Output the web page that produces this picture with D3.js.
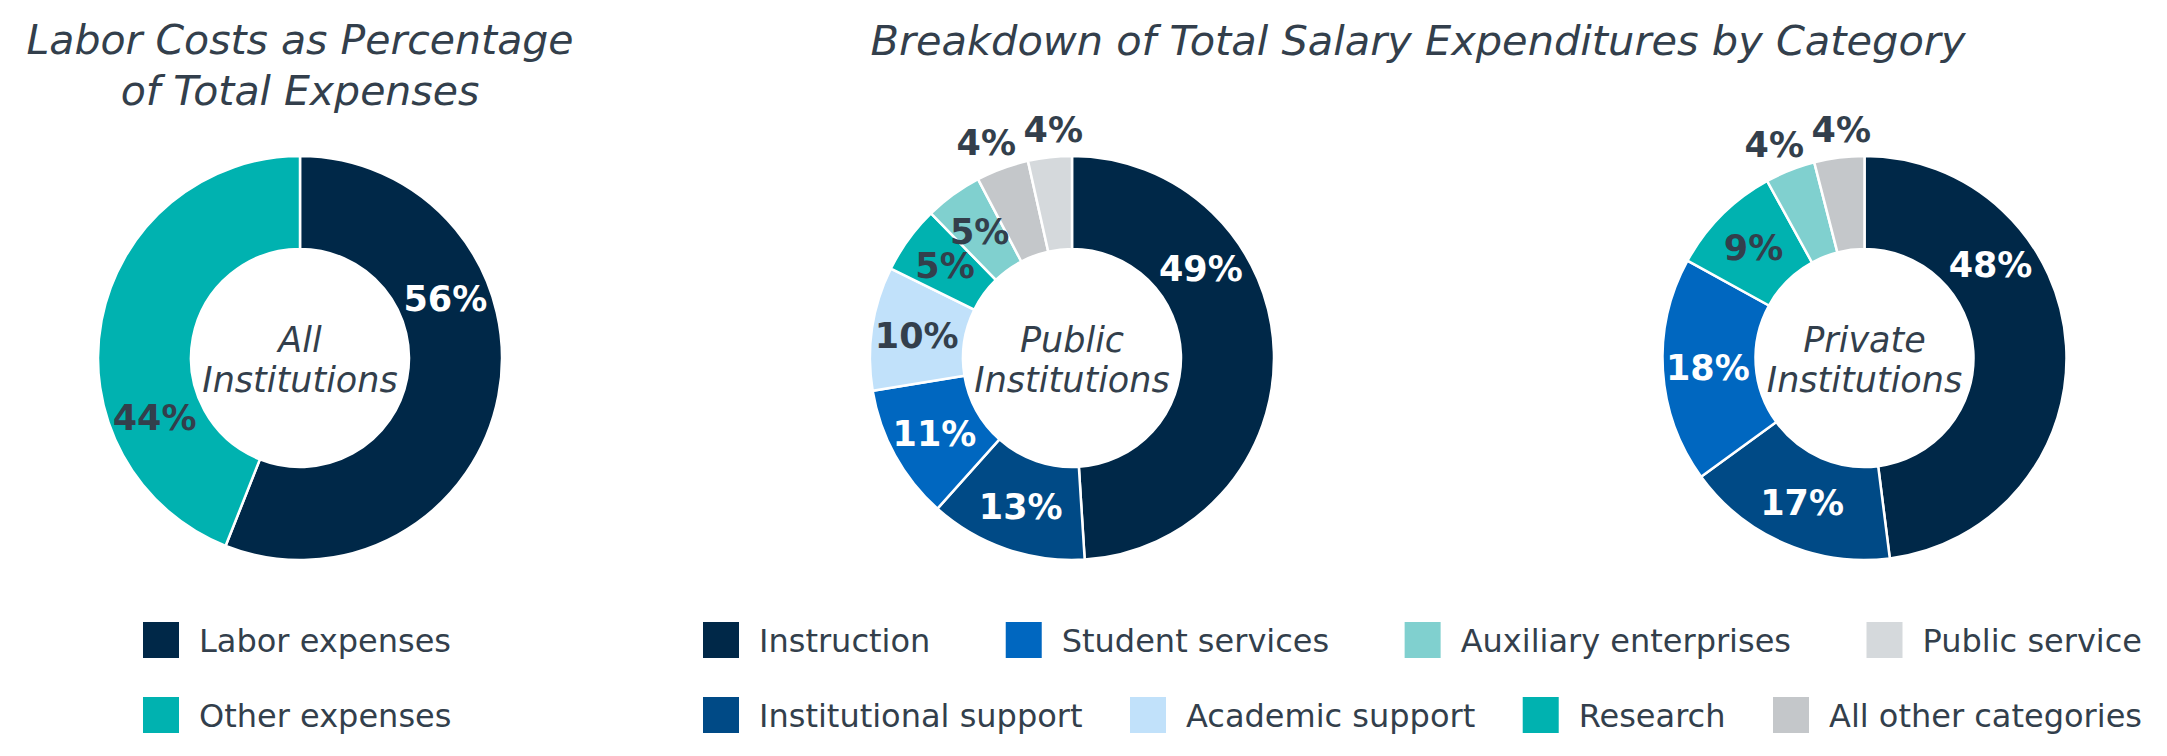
<!DOCTYPE html>
<html>
<head>
<meta charset="utf-8">
<script src="https://cdn.jsdelivr.net/npm/d3@7"></script>
<style>
  html, body { margin: 0; padding: 0; background: #ffffff; }
  svg { display: block; font-family: "DejaVu Sans", Verdana, sans-serif; }
</style>
</head>
<body>
<script>
// ---------------- DATA ----------------
const leftCategories = ["Labor expenses", "Other expenses"];
const leftValues = [56, 44];

const publicCategories = ["Instruction", "Institutional support", "Student services", "Academic support",
                          "Research", "Auxiliary enterprises", "All other categories", "Public service"];
const publicValues = [49.0, 12.6, 10.8, 9.9, 5.4, 4.6, 4.2, 3.5];

const privateCategories = ["Instruction", "Institutional support", "Student services",
                           "Research", "Auxiliary enterprises", "All other categories"];
const privateValues = [48, 17, 18, 9, 4, 4];

const leftTitleLines = ["Labor Costs as Percentage", "of Total Expenses"];
const rightTitle = "Breakdown of Total Salary Expenditures by Category";
const centerLabels = [["All", "Institutions"], ["Public", "Institutions"], ["Private", "Institutions"]];

const legendLeft = ["Labor expenses", "Other expenses"];
const legendRightRows = [
  ["Instruction", "Student services", "Auxiliary enterprises", "Public service"],
  ["Institutional support", "Academic support", "Research", "All other categories"]
];

// ---------------- STYLE ----------------
const colorMap = {
  "Labor expenses": "#002848",
  "Other expenses": "#00b2b0",
  "Instruction": "#002848",
  "Institutional support": "#004a86",
  "Student services": "#0067c0",
  "Academic support": "#c1e1fa",
  "Research": "#00b2b0",
  "Auxiliary enterprises": "#80d0cf",
  "All other categories": "#c4c7ca",
  "Public service": "#d5d9dc"
};
const textColor = "#333f4c";
const W = 2167, H = 756;
const R_OUT = 202, R_IN = 109;
const centerY = 358;
const centersX = [300, 1072, 1864.5];

const svg = d3.select("body").append("svg").attr("width", W).attr("height", H);

function luminance(c) {
  const rgb = d3.rgb(c);
  const f = v => { v /= 255; return v <= 0.03928 ? v / 12.92 : Math.pow((v + 0.055) / 1.055, 2.4); };
  return 0.2126 * f(rgb.r) + 0.7152 * f(rgb.g) + 0.0722 * f(rgb.b);
}

const pie = d3.pie().sort(null).value(d => d.value);
const arc = d3.arc().innerRadius(R_IN).outerRadius(R_OUT);

function drawDonut(cx, cats, vals, center) {
  const data = cats.map((c, i) => ({ cat: c, value: vals[i] }));
  const total = d3.sum(vals);
  const g = svg.append("g").attr("transform", `translate(${cx},${centerY})`);
  const arcs = pie(data);

  g.selectAll("path").data(arcs).join("path")
    .attr("d", arc)
    .attr("fill", d => colorMap[d.data.cat])
    .attr("stroke", "#ffffff")
    .attr("stroke-width", 2.5);

  const labelR = 157, outR = 230, minSep = 67;
  // compute label positions
  const labels = arcs.map(d => {
    const span = d.endAngle - d.startAngle;
    const frac = d.data.value / total;
    let a = (d.startAngle + d.endAngle) / 2;
    const outside = frac < 0.045;
    if (span > Math.PI * 150 / 180) a -= 33 * Math.PI / 180;
    const r = outside ? outR : labelR;
    return { d, outside, x: Math.sin(a) * r, y: -Math.cos(a) * r };
  });
  // spread neighbouring outside labels apart horizontally
  const outs = labels.filter(l => l.outside);
  for (let i = 1; i < outs.length; i++) {
    const dx = outs[i].x - outs[i - 1].x;
    if (dx < minSep) {
      const push = (minSep - dx) / 2;
      outs[i - 1].x -= push;
      outs[i].x += push;
    }
  }

  g.selectAll("text.pct").data(labels).join("text")
    .attr("class", "pct")
    .attr("x", l => l.x).attr("y", l => l.y).attr("dy", "0.36em")
    .attr("text-anchor", "middle")
    .attr("font-size", 35).attr("font-weight", "bold")
    .attr("fill", l => (!l.outside && luminance(colorMap[l.d.data.cat]) < 0.25) ? "#ffffff" : textColor)
    .text(l => Math.round(l.d.data.value) + "%");

  const ct = g.append("text").attr("text-anchor", "middle")
    .attr("font-size", 35).attr("font-style", "italic").attr("fill", textColor);
  center.forEach((line, i) => {
    ct.append("tspan").attr("x", 0).attr("y", i === 0 ? -6 : 34).text(line);
  });
}

drawDonut(centersX[0], leftCategories, leftValues, centerLabels[0]);
drawDonut(centersX[1], publicCategories, publicValues, centerLabels[1]);
drawDonut(centersX[2], privateCategories, privateValues, centerLabels[2]);

// ---------------- TITLES ----------------
const t1 = svg.append("text").attr("text-anchor", "middle")
  .attr("font-size", 41).attr("font-style", "italic").attr("fill", textColor);
leftTitleLines.forEach((line, i) => {
  t1.append("tspan").attr("x", 300).attr("y", 54 + i * 51).text(line);
});
svg.append("text").attr("x", 1418).attr("y", 55).attr("text-anchor", "middle")
  .attr("font-size", 41.5).attr("font-style", "italic").attr("fill", textColor)
  .text(rightTitle);

// ---------------- LEGENDS ----------------
const SQ = 36, TEXT_OFF = 56, rowTops = [622, 697];

function legendItem(x, top, label) {
  const g = svg.append("g");
  g.append("rect").attr("x", x).attr("y", top).attr("width", SQ).attr("height", SQ)
    .attr("fill", colorMap[label]);
  g.append("text").attr("x", x + TEXT_OFF).attr("y", top + SQ / 2).attr("dy", "0.36em")
    .attr("font-size", 32).attr("fill", textColor).text(label);
}

legendLeft.forEach((lab, i) => legendItem(143, rowTops[i], lab));

const legLeftX = 703, legRightX = 2142;
legendRightRows.forEach((row, ri) => {
  const tmp = svg.append("g");
  const widths = row.map(lab => {
    const t = tmp.append("text").attr("font-size", 32).text(lab);
    return t.node().getComputedTextLength() + TEXT_OFF;
  });
  tmp.remove();
  const gap = (legRightX - legLeftX - d3.sum(widths)) / (row.length - 1);
  let x = legLeftX;
  row.forEach((lab, i) => {
    legendItem(x, rowTops[ri], lab);
    x += widths[i] + gap;
  });
});
</script>
</body>
</html>
